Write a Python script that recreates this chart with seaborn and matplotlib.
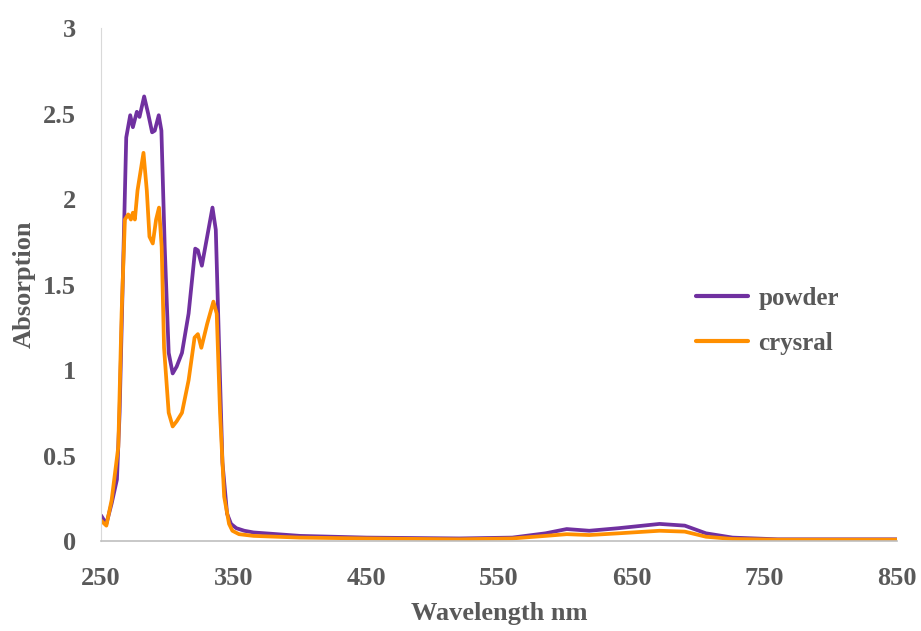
import matplotlib
matplotlib.use("Agg")
import matplotlib.pyplot as plt
import seaborn as sns
from matplotlib.ticker import FuncFormatter

# absorption spectra
wl_powder = [250, 254, 258, 262, 264, 267, 269, 272, 274, 277, 279, 282.5, 285.5,
             288.5, 290.5, 293.5, 295.5, 298, 301, 304, 307, 311, 316, 321, 323,
             326, 330, 334, 336.5, 339, 341.5, 345, 348, 352, 358, 365, 400, 450, 520,
             560, 585, 601, 618, 640, 671, 690, 706, 726, 760, 850]
abs_powder = [0.15, 0.10, 0.22, 0.36, 0.75, 1.72, 2.36, 2.49, 2.42, 2.51, 2.48, 2.60,
              2.50, 2.39, 2.40, 2.49, 2.40, 1.72, 1.10, 0.98, 1.02, 1.10, 1.33, 1.71,
              1.70, 1.61, 1.78, 1.95, 1.82, 1.13, 0.46, 0.16, 0.10, 0.075, 0.06, 0.05,
              0.03, 0.02, 0.015, 0.02, 0.045, 0.07, 0.06, 0.075, 0.10, 0.09, 0.045,
              0.02, 0.01, 0.01]

wl_crystal = [250, 254, 258, 263, 265.5, 268, 270.5, 272.5, 274, 275.5, 277.5, 282,
              284.5, 286.5, 289, 291.5, 293.7, 295.7, 297.5, 301, 304, 307, 311, 316,
              320.5, 323, 325.6, 330, 334.7, 337.2, 339.7, 342.8, 346.5, 349, 354,
              365, 400, 450, 520, 560, 585, 601, 618, 640, 671, 690, 706, 726, 760, 850]
abs_crystal = [0.12, 0.09, 0.24, 0.55, 1.33, 1.88, 1.91, 1.88, 1.92, 1.88, 2.05, 2.27,
               2.05, 1.78, 1.74, 1.88, 1.95, 1.72, 1.13, 0.75, 0.67, 0.70, 0.75, 0.94,
               1.19, 1.21, 1.13, 1.27, 1.40, 1.33, 0.75, 0.26, 0.10, 0.06, 0.04,
               0.03, 0.02, 0.015, 0.01, 0.015, 0.03, 0.04, 0.035, 0.045, 0.06, 0.055,
               0.025, 0.012, 0.008, 0.008]

x_ticks = [250, 350, 450, 550, 650, 750, 850]
y_ticks = [0, 0.5, 1, 1.5, 2, 2.5, 3]

sns.set_style("white")
plt.rcParams["font.family"] = ["Liberation Serif", "DejaVu Serif"]
plt.rcParams["font.weight"] = "bold"
grey = "#595959"

fig, ax = plt.subplots(figsize=(9.21, 6.31), dpi=100)
fig.subplots_adjust(left=0.1097, right=0.974, top=0.9556, bottom=0.1426)

sns.lineplot(x=wl_powder, y=abs_powder, ax=ax, color="#7030A0", lw=2.7,
             label="powder", sort=False)
sns.lineplot(x=wl_crystal, y=abs_crystal, ax=ax, color="#FF8F00", lw=2.7,
             label="crysral", sort=False)

ax.set_xlim(250, 850)
ax.set_ylim(0, 3)
ax.set_xticks(x_ticks)
ax.set_yticks(y_ticks)
ax.yaxis.set_major_formatter(FuncFormatter(lambda v, p: f"{v:g}"))
ax.tick_params(axis="both", length=0, labelsize=19, labelcolor=grey)
ax.tick_params(axis="x", pad=19)
ax.tick_params(axis="y", pad=18)
for lbl in ax.get_xticklabels() + ax.get_yticklabels():
    lbl.set_fontweight("bold")

ax.set_xlabel("Wavelength nm", fontsize=19, fontweight="bold", color=grey, labelpad=8)
ax.set_ylabel("Absorption", fontsize=19, fontweight="bold", color=grey, labelpad=5)

sns.despine(ax=ax)
ax.spines["left"].set_color("#D9D9D9")
ax.spines["bottom"].set_color("#BFBFBF")
ax.spines["bottom"].set_linewidth(1.2)

leg = ax.legend(loc="center left", bbox_to_anchor=(0.719, 0.429), frameon=False,
                fontsize=18, handlelength=2.1, handletextpad=0.4, labelspacing=0.9)
for line in leg.get_lines():
    line.set_linewidth(3)
for t in leg.get_texts():
    t.set_color(grey)
    t.set_fontweight("bold")

fig.savefig("out.png", dpi=100)
